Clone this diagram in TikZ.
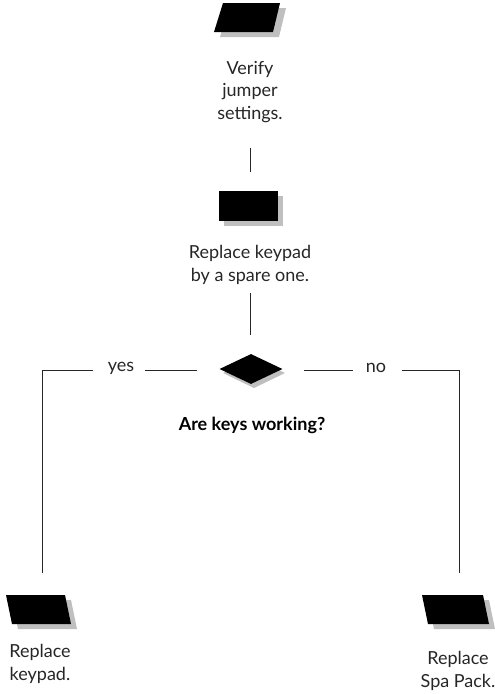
\documentclass[tikz,border=0pt]{standalone}
\usepackage{fontspec}
\setmainfont{Lato}
\usetikzlibrary{shapes.geometric}
\begin{document}
\begin{tikzpicture}[x=1pt,y=-1pt,
  lbl/.style={align=center,font=\fontsize{18}{22.5}\selectfont,text=black!85,inner sep=0pt},
  ln/.style={line width=0.8pt,draw=black!85},
  shade/.style={fill=black!25},
  blk/.style={fill=black}]
\useasboundingbox (0,0) rectangle (495,694);
% top box
\fill[shade] (229,8) -- (286,8) -- (279,37) -- (220,37) -- cycle;
\fill[blk] (223,3) -- (280,3) -- (273,32) -- (214,32) -- cycle;
\node[lbl] (t1) at (250,92) {Verify\\jumper\\settings.};
\coordinate (c1a) at (250,148);
\coordinate (c1b) at (250,172);
\draw[ln] (c1a) -- (c1b);
% second box
\fill[shade] (224,196) rectangle (283,226);
\fill[blk] (219,191) rectangle (278,221);
\node[lbl] (t2) at (250,265) {Replace keypad\\by a spare one.};
\coordinate (c2a) at (250,293);
\coordinate (c2b) at (250,335);
\draw[ln] (c2a) -- (c2b);
% decision
\fill[shade] (223,373) -- (254,358) -- (285,373) -- (254,388) -- cycle;
\node[diamond,blk,inner sep=0pt,minimum width=63pt,minimum height=30pt] (dec) at (251,369) {};
\node[lbl,font=\fontsize{18}{22}\selectfont\bfseries,text=black] (q) at (252,425) {Are keys working?};
\node[lbl] (yes) at (121,368) {yes};
\node[lbl] (no) at (376,368) {no};
\coordinate (ly1) at (197,370);
\coordinate (ly2) at (145,370);
\coordinate (ly3) at (93,370);
\coordinate (endL) at (42,573);
\coordinate (rn1) at (304,370);
\coordinate (rn2) at (353,370);
\coordinate (rn3) at (402,370);
\coordinate (endR) at (459,573);
\draw[ln] (ly1) -- (ly2);
\draw[ln] (ly3) -| (endL);
\draw[ln] (rn1) -- (rn2);
\draw[ln] (rn3) -| (endR);
% bottom left box
\fill[shade] (12,600) -- (71,600) -- (77,629) -- (18,629) -- cycle;
\fill[blk] (6,595) -- (65,595) -- (71,624) -- (12,624) -- cycle;
\node[lbl] (t3) at (40,664) {Replace\\keypad.};
% bottom right box
\fill[shade] (428,600) -- (489,600) -- (495,629) -- (434,629) -- cycle;
\fill[blk] (422,595) -- (483,595) -- (489,624) -- (428,624) -- cycle;
\node[lbl] (t4) at (458,671) {Replace\\Spa Pack.};
\end{tikzpicture}
\end{document}
